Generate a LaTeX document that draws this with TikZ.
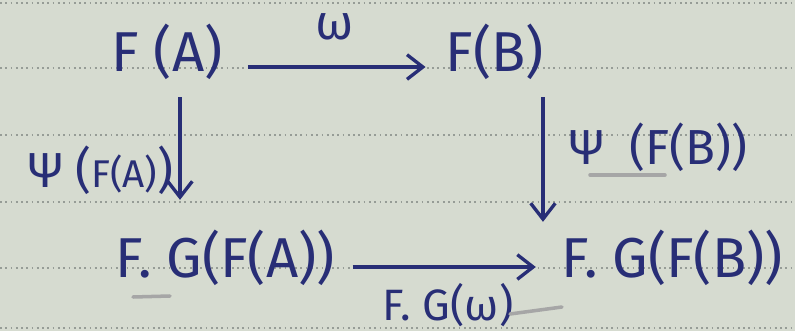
\documentclass[tikz,border=0pt]{standalone}
\usepackage{fontspec}
\setmainfont{Fira Sans}
\usetikzlibrary{arrows.meta}
\definecolor{paper}{RGB}{214,219,208}
\definecolor{ink}{RGB}{40,46,118}
\definecolor{ruling}{RGB}{150,156,150}
\begin{document}
\begin{tikzpicture}[
    x=0.02cm, y=-0.02cm,
    obj/.style={inner sep=0pt, text=ink, font=\fontsize{32}{36}\selectfont},
    lbl/.style={inner sep=0pt, text=ink, font=\fontsize{28}{32}\selectfont},
    arr/.style={-{Straight Barb[length=9pt, width=14pt]}, line width=1.9pt, draw=ink},
    ruled/.style={dotted, line width=1pt, draw=ruling},
    smudge/.style={line width=2pt, draw=gray!70, line cap=round}
]
    \useasboundingbox (0,0) rectangle (795,331);
    \fill[paper] (0,0) rectangle (795,331);
    \foreach \y in {3,68,135,202,268,328}
        \draw[ruled] (0,\y) -- (795,\y);

    \node (FA) at (167,52) [obj] {F (A)};
    \node (FB) at (495,52) [obj] {F(B)};
    \node (FGA) at (225,258) [obj] {F. G(F(A))};
    \node (FGB) at (672,258) [obj] {F. G(F(B))};

    \draw[arr, shorten <=0.5cm, shorten >=0.4cm] ([yshift=-0.3cm]FA.east) -- ([yshift=-0.3cm]FB.west)
        node[midway, above=0.5cm, lbl] {ω};
    \draw[arr, shorten <=0.34cm, shorten >=0.6cm] ([xshift=0.26cm]FA.south) -- ([xshift=0.26cm]FA.south |- FGA.north)
        node[pos=0.6, left=0.1cm, lbl] {Ψ\ (\fontsize{22}{24}\selectfont F(A)\fontsize{28}{32}\selectfont)};
    \draw[arr, shorten <=0.34cm, shorten >=0.16cm] ([xshift=0.96cm]FB.south) -- ([xshift=0.96cm]FB.south |- FGB.north)
        node[pos=0.45, right=0.5cm, lbl] {Ψ\ \ (F(B))};
    \draw[arr, shorten <=0.35cm, shorten >=0.5cm] ([yshift=-0.18cm]FGA.east) -- ([yshift=-0.18cm]FGB.west)
        node[midway, below=0.3cm, lbl, font=\fontsize{25}{28}\selectfont] {F. G(ω)};

    % pencil marks
    \draw[smudge] (133,297) -- (170,296);
    \draw[smudge] (590,175) -- (665,175);
    \draw[smudge] (510,314) -- (562,307);
\end{tikzpicture}
\end{document}
